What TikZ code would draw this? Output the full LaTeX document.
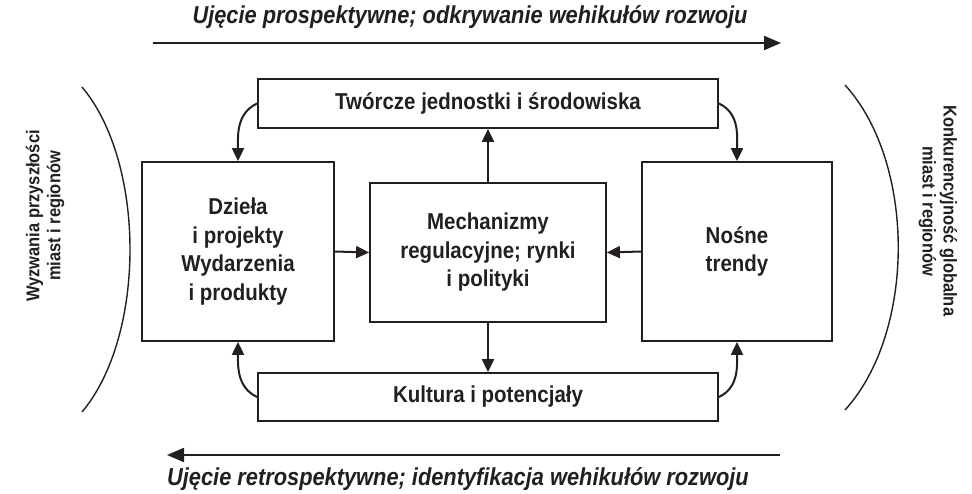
\documentclass[tikz,border=0pt]{standalone}
\usepackage{fontspec}
\setmainfont{Liberation Sans}[FakeStretch=0.89]
\usetikzlibrary{arrows.meta}
\definecolor{ink}{RGB}{35,31,32}
\begin{document}
\begin{tikzpicture}[x=1pt,y=1pt,
  every node/.style={text=ink},
  box/.style={draw=ink, line width=1.8pt, inner sep=0pt, align=center,
    font=\fontsize{23}{28.5}\selectfont\bfseries},
  conn/.style={draw=ink, line width=2pt, -{Triangle[length=13pt,width=12pt]}},
  bigarrow/.style={draw=ink, line width=2.2pt, -{Triangle[length=17pt,width=14pt]}},
  sidetext/.style={align=center, font=\fontsize{18.5}{21}\selectfont\bfseries},
  titletext/.style={anchor=base, font=\fontsize{24.5}{28}\selectfont\bfseries\itshape},
  bracket/.style={draw=ink, line width=1.4pt}]
\useasboundingbox (0,0) rectangle (972,493);

% boxes
\node[box, minimum width=460pt, minimum height=49pt] (top) at (488,389.5) {Twórcze jednostki i środowiska};
\node[box, minimum width=460pt, minimum height=48pt] (bot) at (488,96) {Kultura i potencjały};
\node[box, minimum width=192pt, minimum height=179pt] (left) at (238,241.5) {Dzieła\\i projekty\\Wydarzenia\\i produkty};
\node[box, minimum width=236pt, minimum height=139pt] (mid) at (488,240.5) {Mechanizmy\\regulacyjne; rynki\\i polityki};
\node[box, minimum width=190pt, minimum height=179pt] (right) at (737,241.5) {Nośne\\trendy};

% connectors
\draw[conn] (mid.north) -- (top.south);
\draw[conn] (mid.south) -- (bot.north);
\draw[conn] (left.east) -- (mid.west);
\draw[conn] (right.west) -- (mid.east);
\draw[conn] (top.west) to[out=205,in=90] (left.north);
\draw[conn] (top.east) to[out=-25,in=90] (right.north);
\draw[conn] (bot.west) to[out=155,in=-90] (left.south);
\draw[conn] (bot.east) to[out=25,in=-90] (right.south);

% top and bottom arrows
\coordinate (ta1) at (153,450);
\coordinate (ta2) at (781,450);
\coordinate (ba1) at (780,38);
\coordinate (ba2) at (167,38);
\draw[bigarrow] (ta1) -- (ta2);
\draw[bigarrow] (ba1) -- (ba2);
\node[titletext] (ttop) at (470,469) {Ujęcie prospektywne; odkrywanie wehikułów rozwoju};
\node[titletext] (tbot) at (458,8) {Ujęcie retrospektywne; identyfikacja wehikułów rozwoju};

% side brackets
\draw[bracket] (82,406) .. controls (146,330) and (146,157) .. (82,81);
\draw[bracket] (845,408) .. controls (916,330) and (916,161) .. (845,83);

% side texts
\node[sidetext, rotate=90] (lt) at (45,277) {Wyzwania przyszłości\\miast i regionów};
\node[sidetext, rotate=-90] (rt) at (938,282) {Konkurencyjność globalna\\miast i regionów};
\end{tikzpicture}
\end{document}
